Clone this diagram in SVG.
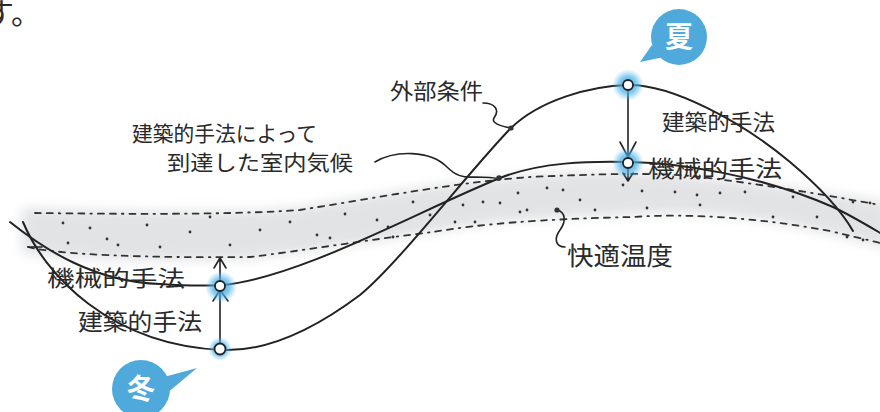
<svg xmlns="http://www.w3.org/2000/svg" width="880" height="412" viewBox="0 0 880 412">
<defs>
<style>
.crv{fill:none;stroke:#222;stroke-width:2;stroke-linecap:round;stroke-linejoin:round}
.thin{fill:none;stroke:#222;stroke-width:1.6;stroke-linecap:round;stroke-linejoin:round}
.dash{fill:none;stroke:#333;stroke-width:1.8;stroke-dasharray:6 6 6 6 1.5 6;stroke-linecap:round}
.lbl{font-family:"Noto Sans CJK JP","Noto Sans",sans-serif;fill:#2a2a2a}
.bub{fill:#4fa9da}
.bubt{font-family:"Noto Sans CJK JP","Noto Sans",sans-serif;font-weight:bold;fill:#fff;font-size:28px;text-anchor:middle}
.pt{fill:#fff;stroke:#222;stroke-width:1.8}
.dot{fill:#333}
</style>
<radialGradient id="glow">
<stop offset="0" stop-color="#2f9fe0" stop-opacity="0.95"/>
<stop offset="0.55" stop-color="#48b0ea" stop-opacity="0.65"/>
<stop offset="1" stop-color="#6cc2f0" stop-opacity="0"/>
</radialGradient>
<filter id="blur" x="-10%" y="-50%" width="120%" height="200%">
<feGaussianBlur stdDeviation="6"/>
</filter>
</defs>
<rect width="880" height="412" fill="#fff"/>
<text class="lbl" x="-16" y="24" font-size="30">す。</text>

<g id="comfort-band">
<path d="M22,208 C120,211 250,214 300,207 C380,195 460,179 560,173 C660,169 760,181 890,203 L890,249 C830,233 760,215 680,213 C600,215 520,219 470,226 C400,237 330,249 250,259 C150,262 60,259 22,253 Z" fill="#e2e3e5" filter="url(#blur)"/>
<path class="dash" d="M35,213 C120,214 230,215 300,210 C380,197 460,182 530,177 C600,174 660,172 700,177 C760,184 820,194 880,205"/>
<path class="dash" d="M28,247 C60,255 150,258 250,257 C300,251 380,238 433,232 C480,224 540,219 633,217 C690,213 760,218 830,231 C850,236 865,239 880,243"/>
<g class="dot">
<circle cx="63" cy="223" r="1.4"/><circle cx="90" cy="228" r="1.4"/><circle cx="147" cy="225" r="1.4"/><circle cx="190" cy="232" r="1.4"/>
<circle cx="68" cy="243" r="1.4"/><circle cx="107" cy="239" r="1.4"/><circle cx="118" cy="245" r="1.4"/><circle cx="160" cy="247" r="1.4"/>
<circle cx="230" cy="245" r="1.4"/><circle cx="210" cy="217" r="1.4"/><circle cx="260" cy="230" r="1.4"/><circle cx="290" cy="222" r="1.4"/>
<circle cx="377" cy="220" r="1.4"/><circle cx="388" cy="227" r="1.4"/><circle cx="413" cy="202" r="1.4"/><circle cx="463" cy="205" r="1.4"/>
<circle cx="483" cy="202" r="1.4"/><circle cx="500" cy="203" r="1.4"/><circle cx="518" cy="193" r="1.4"/><circle cx="547" cy="188" r="1.4"/>
<circle cx="563" cy="190" r="1.4"/><circle cx="455" cy="222" r="1.4"/><circle cx="475" cy="222" r="1.4"/><circle cx="520" cy="212" r="1.4"/>
<circle cx="527" cy="210" r="1.4"/><circle cx="580" cy="200" r="1.4"/><circle cx="595" cy="210" r="1.4"/><circle cx="623" cy="185" r="1.4"/>
<circle cx="642" cy="191" r="1.4"/><circle cx="393" cy="237" r="1.4"/><circle cx="317" cy="235" r="1.4"/><circle cx="330" cy="238" r="1.4"/>
<circle cx="647" cy="208" r="1.4"/><circle cx="675" cy="192" r="1.4"/><circle cx="697" cy="195" r="1.4"/><circle cx="720" cy="193" r="1.4"/>
<circle cx="745" cy="192" r="1.4"/><circle cx="793" cy="197" r="1.4"/><circle cx="773" cy="217" r="1.4"/><circle cx="817" cy="217" r="1.4"/>
<circle cx="853" cy="202" r="1.4"/><circle cx="870" cy="203" r="1.4"/><circle cx="847" cy="237" r="1.4"/><circle cx="863" cy="240" r="1.4"/>
<circle cx="345" cy="214" r="1.4"/><circle cx="430" cy="215" r="1.4"/><circle cx="700" cy="205" r="1.4"/>
</g>
</g>

<g id="connectors">
<path id="outer-curve" class="crv" d="M23,222 C45,275 110,345 222,350 C270,352 320,325 360,295 C400,262 470,170 511,128 C540,100 590,86 628,85 C670,84 740,120 790,162 C815,183 838,205 853,231"/>
<path id="indoor-curve" class="crv" d="M10,222 C45,250 95,282 160,284 C190,286 205,286 222,285 C300,278 420,210 500,178 C540,162 590,161 630,162 C680,163 760,175 833,207 C850,215 865,224 882,234"/>
<path class="thin" d="M28,247 L42,247"/>
<path id="summer-arrow" class="thin" d="M628,90 L628,157 M620,142 L628,157 L636,142 M628,168 L628,181 M623,173 L628,181 L633,173"/>
<path id="winter-arrow" class="thin" d="M220,343 L220,258 M214,268 L220,258 L226,268 M213,301 L220,290 L228,301"/>
<path id="leader-outer" class="thin" d="M483,103 C495,103 500,110 494,118 C491,123 500,126 511,128"/>
<path id="leader-indoor" class="thin" d="M375,162 C395,150 430,150 447,167 C455,175 462,178 475,177 C485,177 492,177 500,179"/>
<path id="leader-comfort" class="thin" d="M557,210 C566,212 566,222 560,230 C554,238 555,247 565,247"/>
<circle class="dot" cx="511" cy="128" r="2.6"/>
<circle class="dot" cx="499" cy="178" r="2.8"/>
<circle class="dot" cx="557" cy="210" r="2.6"/>
</g>

<g id="summer-points">
<circle cx="628" cy="85" r="16" fill="url(#glow)"/>
<circle cx="628" cy="163" r="16" fill="url(#glow)"/>
<circle class="pt" cx="628" cy="85" r="5"/>
<circle class="pt" cx="628" cy="163" r="5"/>
</g>
<g id="winter-points">
<circle cx="221" cy="287" r="16" fill="url(#glow)"/>
<circle cx="220" cy="349" r="12" fill="url(#glow)"/>
<circle class="pt" cx="220" cy="286" r="5"/>
<circle class="pt" cx="220" cy="349" r="5.5"/>
</g>

<g id="label-outer"><text class="lbl" x="390" y="99" font-size="22" textLength="93" lengthAdjust="spacingAndGlyphs">外部条件</text></g>
<g id="label-indoor">
<text class="lbl" x="132" y="141" font-size="21" textLength="185" lengthAdjust="spacingAndGlyphs">建築的手法によって</text>
<text class="lbl" x="167" y="170" font-size="21" textLength="186" lengthAdjust="spacingAndGlyphs">到達した室内気候</text>
</g>
<g id="label-comfort"><text class="lbl" x="567" y="265" font-size="25" textLength="106" lengthAdjust="spacingAndGlyphs">快適温度</text></g>
<g id="label-summer-arch"><text class="lbl" x="662" y="130" font-size="22" textLength="113" lengthAdjust="spacingAndGlyphs">建築的手法</text></g>
<g id="label-summer-mech"><text class="lbl" x="648" y="177" font-size="23" textLength="134" lengthAdjust="spacingAndGlyphs">機械的手法</text></g>
<g id="label-winter-mech"><text class="lbl" x="47" y="286" font-size="22" textLength="138" lengthAdjust="spacingAndGlyphs">機械的手法</text></g>
<g id="label-winter-arch"><text class="lbl" x="78" y="330" font-size="23" textLength="124" lengthAdjust="spacingAndGlyphs">建築的手法</text></g>

<g id="bubble-summer">
<path class="bub" d="M652,45 L640,62 L664,57 Z"/>
<circle class="bub" cx="679" cy="37" r="28"/>
<text class="bubt" x="679" y="47">夏</text>
</g>
<g id="bubble-winter">
<path class="bub" d="M164,377 L197,368 L166,394 Z"/>
<circle class="bub" cx="141" cy="389" r="29"/>
<text class="bubt" x="141" y="399">冬</text>
</g>
</svg>
